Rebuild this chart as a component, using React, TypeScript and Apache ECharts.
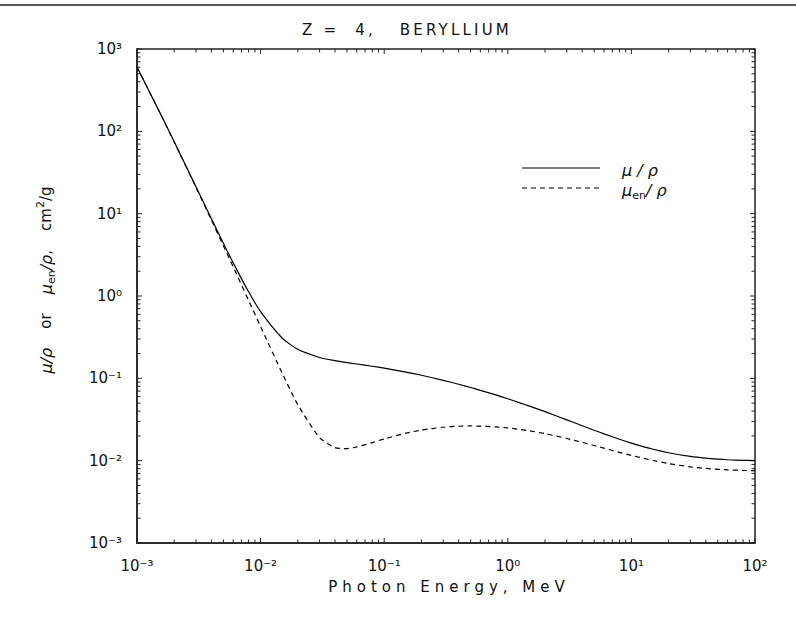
import React, { useEffect, useRef } from "react";
import * as echarts from "echarts";

// Photon energy (MeV) and Beryllium coefficients (cm^2/g)
const energyMeV = [
  0.001, 0.0015, 0.002, 0.003, 0.004, 0.005, 0.006, 0.008, 0.01, 0.015, 0.02,
  0.03, 0.04, 0.05, 0.06, 0.08, 0.1, 0.15, 0.2, 0.3, 0.4, 0.5, 0.6, 0.8, 1,
  1.25, 1.5, 2, 3, 4, 5, 6, 8, 10, 15, 20, 30, 40, 50, 60, 80, 100,
];
const muRho = [
  604.1, 179.7, 74.69, 21.27, 8.685, 4.369, 2.527, 1.124, 0.6466, 0.307,
  0.2251, 0.1792, 0.164, 0.1554, 0.1493, 0.1401, 0.1328, 0.119, 0.1089,
  0.09463, 0.08471, 0.07739, 0.07155, 0.06286, 0.05652, 0.05037, 0.04593,
  0.0394, 0.03134, 0.02659, 0.02343, 0.02118, 0.01822, 0.01636, 0.01376,
  0.01248, 0.01127, 0.01072, 0.01043, 0.01026, 0.01011, 0.01003,
];
const muEnRho = [
  603.5, 179.1, 74.22, 20.9, 8.367, 4.081, 2.26, 0.8839, 0.4255, 0.1143,
  0.0478, 0.01898, 0.01438, 0.01401, 0.01468, 0.01658, 0.01836, 0.02157,
  0.02353, 0.02548, 0.0262, 0.02639, 0.02627, 0.02574, 0.025, 0.02399,
  0.02303, 0.0213, 0.0186, 0.01669, 0.01528, 0.01419, 0.01263, 0.01158,
  0.01004, 0.009218, 0.00842, 0.008048, 0.007853, 0.007738, 0.007621,
  0.007556,
];

const xDecades = [0.001, 0.01, 0.1, 1, 10, 100];
const yDecades = [0.001, 0.01, 0.1, 1, 10, 100, 1000];
const minorSteps = [2, 3, 4, 5, 6, 7, 8, 9];

const TITLE = "Z =  4,   BERYLLIUM";
const X_NAME = "Photon Energy, MeV";

const FONT = "DejaVu Sans";
const INK = "#111";
const AXIS = "#222";

const SUP: Record<string, string> = {
  "-": "⁻", "0": "⁰", "1": "¹", "2": "²", "3": "³", "4": "⁴",
  "5": "⁵", "6": "⁶", "7": "⁷", "8": "⁸", "9": "⁹",
};

function tickList(decades: number[]) {
  const out: number[][] = [];
  decades.forEach((d, i) => {
    out.push([d, 5]);
    if (i < decades.length - 1) minorSteps.forEach((m) => out.push([d * m, 3.5]));
  });
  return out;
}

const powLabel = (v: number) => {
  const e = String(Math.round(Math.log10(v)));
  return "10" + e.split("").map((c) => SUP[c] || c).join("");
};

const nameRich = {
  g: { fontSize: 16, lineHeight: 22, fontStyle: "italic", fontFamily: FONT, fill: INK, color: INK },
  t: { fontSize: 15, lineHeight: 22, fontFamily: FONT, fill: INK, color: INK },
  sub: { fontSize: 11, lineHeight: 10, verticalAlign: "bottom", fontFamily: FONT, fill: INK, color: INK },
  sup: { fontSize: 11, lineHeight: 10, verticalAlign: "top", fontFamily: FONT, fill: INK, color: INK },
};

export default function App() {
  const ref = useRef<HTMLDivElement>(null);
  useEffect(() => {
    const el = ref.current!;
    const chart = echarts.init(el, null, { renderer: "svg" });
    const muData = energyMeV.map((e, i) => [e, muRho[i]]);
    const muEnData = energyMeV.map((e, i) => [e, muEnRho[i]]);

    const option: any = {
      animation: false,
      backgroundColor: "#fff",
      grid: {
        left: 137,
        top: 49,
        width: 618,
        height: 494,
        show: true,
        borderColor: AXIS,
        borderWidth: 1.5,
        backgroundColor: "transparent",
      },
      xAxis: {
        type: "log",
        logBase: 10,
        min: 0.001,
        max: 100,
        splitNumber: 5,
        axisLine: { show: true, lineStyle: { color: AXIS, width: 1.5 } },
        axisTick: { show: false },
        splitLine: { show: false },
        axisLabel: { formatter: powLabel, margin: 15, fontSize: 15, fontFamily: FONT, color: INK },
      },
      yAxis: {
        type: "log",
        logBase: 10,
        min: 0.001,
        max: 1000,
        splitNumber: 6,
        axisLine: { show: true, lineStyle: { color: AXIS, width: 1.5 } },
        axisTick: { show: false },
        splitLine: { show: false },
        axisLabel: { formatter: powLabel, margin: 15, fontSize: 15, fontFamily: FONT, color: INK },
      },
      series: [
        {
          name: "mu",
          type: "line",
          data: muData,
          showSymbol: false,
          smooth: 0.2,
          lineStyle: { color: "#000", width: 1.2, type: "solid" },
          silent: true,
        },
        {
          name: "muen",
          type: "line",
          data: muEnData,
          showSymbol: false,
          smooth: 0.2,
          lineStyle: { color: "#000", width: 1.2, type: [5, 4] },
          silent: true,
        },
        {
          type: "custom",
          silent: true,
          clip: false,
          data: tickList(xDecades).map((t) => [t[0], 1, t[1]]),
          encode: { x: 0, y: 1 },
          renderItem: (params: any, api: any) => {
            const cs = params.coordSys;
            const x = api.coord([api.value(0), 1])[0];
            const len = api.value(2);
            const st = { stroke: AXIS, lineWidth: 1 };
            return {
              type: "group",
              children: [
                { type: "line", shape: { x1: x, y1: cs.y + cs.height, x2: x, y2: cs.y + cs.height - len }, style: st },
                { type: "line", shape: { x1: x, y1: cs.y, x2: x, y2: cs.y + len }, style: st },
              ],
            };
          },
        },
        {
          type: "custom",
          silent: true,
          clip: false,
          data: tickList(yDecades).map((t) => [1, t[0], t[1]]),
          encode: { x: 0, y: 1 },
          renderItem: (params: any, api: any) => {
            const cs = params.coordSys;
            const y = api.coord([1, api.value(1)])[1];
            const len = api.value(2);
            const st = { stroke: AXIS, lineWidth: 1 };
            return {
              type: "group",
              children: [
                { type: "line", shape: { x1: cs.x, y1: y, x2: cs.x + len, y2: y }, style: st },
                { type: "line", shape: { x1: cs.x + cs.width, y1: y, x2: cs.x + cs.width - len, y2: y }, style: st },
              ],
            };
          },
        },
      ],
      graphic: [
        {
          type: "line",
          shape: { x1: 0, y1: 5, x2: 796, y2: 5 },
          style: { stroke: "#555", lineWidth: 2 },
          silent: true,
        },
        {
          type: "text",
          x: 407,
          y: 30,
          style: {
            text: TITLE,
            fontSize: 15,
            fontFamily: FONT,
            fill: INK,
            align: "center",
            verticalAlign: "middle",
          },
        },
        {
          type: "text",
          x: 449,
          y: 587,
          style: {
            text: X_NAME,
            fontSize: 15,
            fontFamily: FONT,
            fill: INK,
            align: "center",
            verticalAlign: "middle",
          },
        },
        {
          type: "text",
          x: 46,
          y: 280,
          rotation: Math.PI / 2,
          style: {
            text: "{g|μ/ρ}{t|    or    }{g|μ}{sub|en}{g|/ρ}{t|,    cm}{sup|2}{t|/g}",
            rich: nameRich,
            align: "center",
            verticalAlign: "middle",
          },
        },
        {
          type: "line",
          shape: { x1: 522, y1: 168, x2: 600, y2: 168 },
          style: { stroke: "#000", lineWidth: 1.2 },
        },
        {
          type: "line",
          shape: { x1: 522, y1: 188, x2: 600, y2: 188 },
          style: { stroke: "#000", lineWidth: 1.2, lineDash: [5, 4] },
        },
        {
          type: "text",
          x: 622,
          y: 170,
          style: {
            text: "{g|μ / ρ}",
            rich: nameRich,
            align: "left",
            verticalAlign: "middle",
          },
        },
        {
          type: "text",
          x: 622,
          y: 190,
          style: {
            text: "{g|μ}{sub|en}{g|/ ρ}",
            rich: nameRich,
            align: "left",
            verticalAlign: "middle",
          },
        },
      ],
    };
    chart.setOption(option);

    const spacing: Record<string, number> = { [TITLE]: 3.2, [X_NAME]: 5 };
    const apply = () => {
      el.querySelectorAll("text").forEach((t) => {
        const s = spacing[(t.textContent || "").trim()];
        if (s != null) t.setAttribute("letter-spacing", String(s));
      });
    };
    apply();
    chart.on("finished", apply);
    const raf = requestAnimationFrame(apply);
    return () => {
      cancelAnimationFrame(raf);
      chart.dispose();
    };
  }, []);

  return (
    <div
      ref={ref}
      style={{ position: "absolute", left: 0, top: 0, width: 796, height: 638, background: "#fff" }}
    />
  );
}
